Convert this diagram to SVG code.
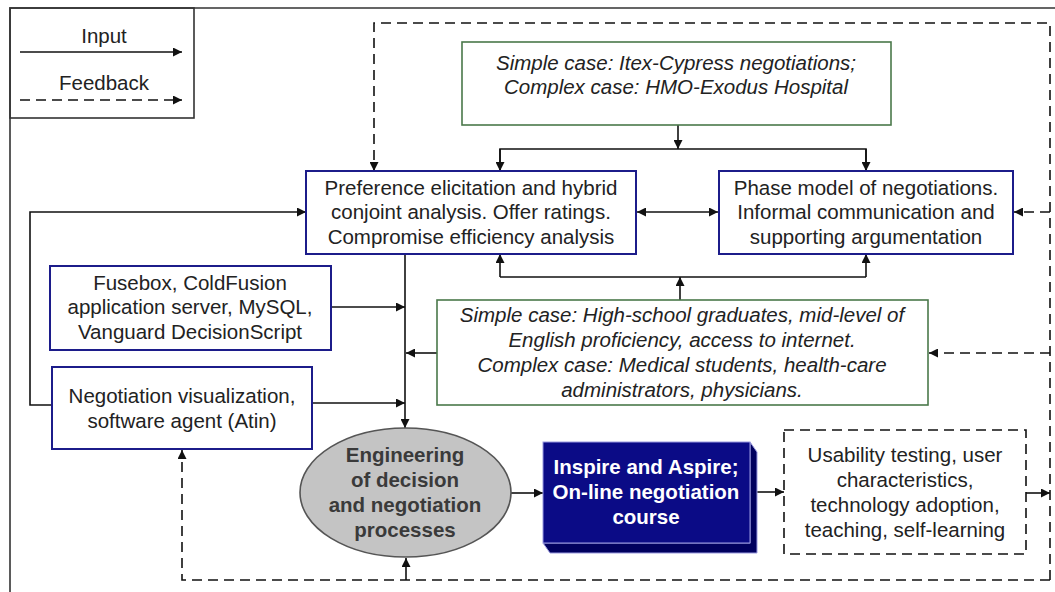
<svg xmlns="http://www.w3.org/2000/svg" width="1055" height="592" viewBox="0 0 1055 592">
<defs>
<style>
text{font-family:"Liberation Sans",Arial,sans-serif;font-size:20.5px;fill:#222;text-anchor:middle}
.it{font-style:italic}
.bd{font-weight:bold}
.wh{fill:#fff}
.gr{fill:#3a3a3a}
.blue{fill:#fff;stroke:#1c1c8a;stroke-width:2}
.green{fill:#fff;stroke:#4a784a;stroke-width:1.6}
.ln{fill:none;stroke:#111;stroke-width:1.6}
.ds{fill:none;stroke:#111;stroke-width:1.6;stroke-dasharray:10 6}
</style>
<marker id="ah" viewBox="0 0 10 10" refX="10" refY="5" markerWidth="10" markerHeight="9" markerUnits="userSpaceOnUse" orient="auto">
<path d="M0,0 L10,5 L0,10 Z" fill="#111"/>
</marker>
<marker id="as" viewBox="0 0 10 10" refX="0" refY="5" markerWidth="10" markerHeight="9" markerUnits="userSpaceOnUse" orient="auto">
<path d="M10,0 L0,5 L10,10 Z" fill="#111"/>
</marker>
</defs>
<rect width="1055" height="592" fill="#fff"/>
<path d="M10,592 L10,8 L1055,8" fill="none" stroke="#333" stroke-width="1.6"/>
<g id="legend">
<rect x="10" y="8" width="184" height="110" fill="none" stroke="#333" stroke-width="1.6"/>
<text x="104" y="43">Input</text>
<line x1="20" y1="52" x2="182" y2="52" class="ln" marker-end="url(#ah)"/>
<text x="104" y="90">Feedback</text>
<line x1="20" y1="100" x2="182" y2="100" class="ds" marker-end="url(#ah)"/>
</g>
<g id="connectors">
<line x1="678" y1="125" x2="678" y2="149" class="ln" marker-end="url(#ah)"/>
<path d="M500,171 L500,149 L866,149 L866,171" class="ln"/>
<line x1="500" y1="149" x2="500" y2="171" class="ln" marker-end="url(#ah)"/>
<line x1="866" y1="149" x2="866" y2="171" class="ln" marker-end="url(#ah)"/>
<line x1="637" y1="212" x2="718" y2="212" class="ln" marker-start="url(#as)" marker-end="url(#ah)"/>
<path d="M500,277 L866,277" class="ln"/>
<line x1="500" y1="277" x2="500" y2="254" class="ln" marker-end="url(#ah)"/>
<line x1="866" y1="277" x2="866" y2="254" class="ln" marker-end="url(#ah)"/>
<line x1="680" y1="300" x2="680" y2="277" class="ln" marker-end="url(#ah)"/>
<line x1="405" y1="254" x2="405" y2="428" class="ln" marker-end="url(#ah)"/>
<line x1="331" y1="307" x2="405" y2="307" class="ln" marker-end="url(#ah)"/>
<line x1="437" y1="353" x2="406" y2="353" class="ln" marker-end="url(#ah)"/>
<line x1="312" y1="403" x2="405" y2="403" class="ln" marker-end="url(#ah)"/>
<path d="M52,405 L30,405 L30,212 L306,212" class="ln" marker-end="url(#ah)"/>
<line x1="511" y1="493" x2="543" y2="493" class="ln" marker-end="url(#ah)"/>
<line x1="757" y1="492" x2="784" y2="492" class="ln" marker-end="url(#ah)"/>
<line x1="1026" y1="493" x2="1050" y2="493" class="ln" marker-end="url(#ah)"/>
<path d="M1050,580 L1050,23 L374,23 L374,171" class="ds" marker-end="url(#ah)"/>
<path d="M1050,580 L182,580 L182,450" class="ds" marker-end="url(#ah)"/>
<line x1="1050" y1="212" x2="1014" y2="212" class="ds" marker-end="url(#ah)"/>
<line x1="1050" y1="353" x2="929" y2="353" class="ds" marker-end="url(#ah)"/>
<line x1="406" y1="580" x2="406" y2="558" class="ln" marker-end="url(#ah)"/>
</g>
<g id="cases-top">
<rect x="462" y="42" width="429" height="83" class="green"/>
<text x="676" y="70" class="it">Simple case: Itex-Cypress negotiations;</text>
<text x="676" y="94" class="it">Complex case: HMO-Exodus Hospital</text>
</g>
<g id="preference">
<rect x="306" y="171" width="330" height="83" class="blue"/>
<text x="471" y="195">Preference elicitation and hybrid</text>
<text x="471" y="219">conjoint analysis. Offer ratings.</text>
<text x="471" y="244">Compromise efficiency analysis</text>
</g>
<g id="phase">
<rect x="719" y="171" width="294" height="83" class="blue"/>
<text x="866" y="195">Phase model of negotiations.</text>
<text x="866" y="219">Informal communication and</text>
<text x="866" y="244">supporting argumentation</text>
</g>
<g id="fusebox">
<rect x="50" y="266" width="281" height="84" class="blue"/>
<text x="190" y="290">Fusebox, ColdFusion</text>
<text x="190" y="314">application server, MySQL,</text>
<text x="190" y="339">Vanguard DecisionScript</text>
</g>
<g id="cases-users">
<rect x="437" y="300" width="491" height="105" class="green"/>
<text x="682" y="322" class="it">Simple case: High-school graduates, mid-level of</text>
<text x="682" y="347" class="it">English proficiency, access to internet.</text>
<text x="682" y="372" class="it">Complex case: Medical students, health-care</text>
<text x="682" y="397" class="it">administrators, physicians.</text>
</g>
<g id="visualization">
<rect x="52" y="367" width="260" height="82" class="blue"/>
<text x="182" y="403">Negotiation visualization,</text>
<text x="182" y="428">software agent (Atin)</text>
</g>
<g id="engineering">
<ellipse cx="405.5" cy="492.5" rx="105.5" ry="64.5" fill="#c4c4c4" stroke="#555" stroke-width="1.6"/>
<text x="405" y="462" class="bd gr">Engineering</text>
<text x="405" y="487" class="bd gr">of decision</text>
<text x="405" y="512" class="bd gr">and negotiation</text>
<text x="405" y="537" class="bd gr">processes</text>
</g>
<g id="inspire">
<path d="M750,442 L757,452 L757,553 L550,553 L543,543 L750,543 Z" fill="#00005e" stroke="#9a9ae0" stroke-width="1"/>
<rect x="543" y="442" width="207" height="101" fill="#0b0b86" stroke="#9a9ae0" stroke-width="1"/>
<text x="646" y="474" class="bd wh">Inspire and Aspire;</text>
<text x="646" y="499" class="bd wh">On-line negotiation</text>
<text x="646" y="524" class="bd wh">course</text>
</g>
<g id="usability">
<rect x="784" y="430" width="242" height="124" fill="#fff" stroke="#111" stroke-width="1.6" stroke-dasharray="10 6"/>
<text x="905" y="462">Usability testing, user</text>
<text x="905" y="487">characteristics,</text>
<text x="905" y="512">technology adoption,</text>
<text x="905" y="537">teaching, self-learning</text>
</g>
</svg>
